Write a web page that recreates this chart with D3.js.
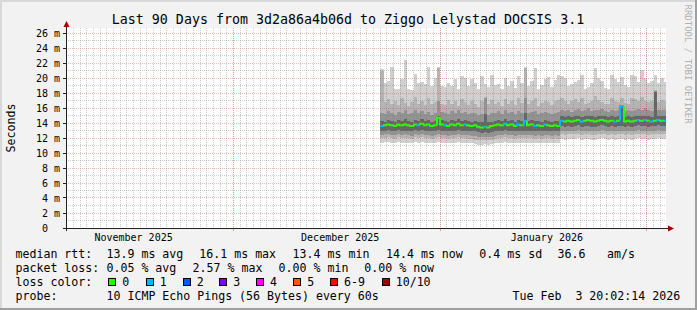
<!DOCTYPE html>
<html><head><meta charset="utf-8">
<script src="https://cdn.jsdelivr.net/npm/d3@7"></script>
<style>
body{margin:0;background:#f2f2f2}
svg{display:block}
text{font-family:"DejaVu Sans Mono",monospace;white-space:pre}
</style>
</head><body>
<svg id="c" width="697" height="310"></svg>
<script>
// ---------- data ----------
const title = "Last 90 Days from 3d2a86a4b06d to Ziggo Lelystad DOCSIS 3.1";
const yLabel = "Seconds";
const sideLabel = "RRDTOOL / TOBI OETIKER";
const rangeStart = "2025-11-05T20:02:14Z";
const rangeEnd = "2026-02-03T20:02:14Z";
const yTicks = [0, 2, 4, 6, 8, 10, 12, 14, 16, 18, 20, 22, 24, 26];
const monthStarts = ["2025-12-01T00:00:00Z", "2026-01-01T00:00:00Z", "2026-02-01T00:00:00Z"];
const monthLabels = ["November 2025", "December 2025", "January 2026"];
const monthLabelAt = ["2025-11-16T00:00:00Z", "2025-12-17T00:00:00Z", "2026-01-17T00:00:00Z"];
const firstSample = "2025-12-23T00:00:00Z";
const sampleHours = 12;

// median round trip time (ms) per sample
const median = [13.6,13.7,13.8,13.7,13.6,13.8,13.7,13.8,13.7,13.6,
13.8,13.7,13.9,13.7,13.8,13.6,13.7,14.7,13.8,13.7,
13.6,13.8,13.7,13.9,13.7,13.8,13.7,13.6,13.7,13.5,
13.4,13.5,13.4,13.6,13.7,13.8,13.7,13.9,13.7,13.8,
13.6,13.8,13.7,14.3,13.7,13.8,13.6,13.7,13.6,13.8,
13.7,13.6,13.7,13.6,14.3,14.2,14.3,14.2,14.3,14.4,
14.2,14.3,14.4,14.3,14.2,14.3,14.4,14.3,14.2,14.3,
14.2,14.3,16.2,14.2,14.3,14.2,14.3,14.4,14.3,14.4,
14.3,14.2,14.3,14.4,14.3,14.3];
// lost pings out of 10 per sample
const loss = [1,0,0,0,0,0,0,0,0,0,
0,1,0,0,0,0,0,0,0,1,
0,0,0,0,0,1,0,0,0,0,
0,1,0,0,0,0,0,1,0,0,
0,1,0,1,0,0,1,0,0,1,
0,0,0,0,1,0,0,0,0,0,
1,0,0,0,0,0,0,0,0,0,
1,0,1,0,0,0,0,1,0,1,
0,1,0,1,0,1];
// smoke: ping spread levels (ms), from highest down to lowest
const pingMax = [21.2,19.4,19.6,21.5,18.6,18.5,19.9,22.4,18.5,18.4,
20.5,19.3,19.5,19.2,21.5,18.9,20.0,21.5,18.9,18.8,
19.4,18.9,19.9,18.5,20.3,20.0,18.9,19.8,19.4,18.6,
20.3,19.2,18.8,20.4,19.1,19.2,18.6,20.0,19.0,19.6,
18.7,20.3,19.3,21.5,19.0,19.6,21.3,18.6,19.1,19.9,
20.1,18.8,19.7,20.4,20.3,20.0,18.9,19.2,19.5,19.7,
20.4,18.6,18.8,19.4,21.3,20.0,19.6,18.7,18.6,20.4,
19.8,19.5,20.2,19.1,18.8,20.4,20.3,19.5,21.1,20.0,
19.4,19.6,20.4,19.4,20.0,19.5];
const pingHigh2 = [21.0,16.8,17.2,16.5,16.9,16.4,17.4,16.7,16.3,16.8,
17.5,16.6,16.9,16.4,17.3,16.5,16.8,21.3,16.6,16.4,
17.1,16.5,16.9,16.3,17.2,16.8,16.4,17.0,16.6,16.2,
16.9,17.5,16.5,17.1,16.6,16.8,16.3,17.2,16.5,16.9,
16.4,17.3,16.7,21.3,16.6,16.9,17.4,16.3,16.7,17.0,
16.8,16.4,16.9,17.1,17.3,17.0,16.6,16.9,17.2,16.8,
17.4,16.5,16.7,17.0,17.6,17.1,16.8,16.5,16.6,17.3,
17.0,16.8,17.4,16.7,16.5,17.3,17.2,16.9,17.5,17.0,
16.8,16.9,18.4,16.8,17.1,16.9];
const pingHigh3 = [15.4,15.2,15.6,15.3,15.1,15.5,15.3,15.8,15.2,15.4,
15.7,15.3,15.6,15.2,15.5,15.1,15.4,17.0,15.5,15.3,
15.2,15.6,15.3,15.7,15.4,15.5,15.2,15.3,15.4,15.1,
15.2,17.3,15.1,15.3,15.4,15.6,15.2,15.7,15.3,15.5,
15.2,15.6,15.4,17.3,15.3,15.5,15.6,15.2,15.4,15.5,
15.3,15.2,15.4,15.5,15.8,15.6,15.7,15.5,15.8,15.9,
15.6,15.7,16.0,15.6,15.8,15.7,15.9,15.6,15.5,15.8,
15.6,15.7,16.4,15.6,15.7,15.6,15.8,15.9,15.7,16.0,
15.7,15.6,18.3,15.8,15.7,15.8];
const pingHigh4 = [14.3,14.2,14.4,14.3,14.2,14.4,14.3,14.5,14.3,14.2,
14.4,14.3,14.5,14.3,14.4,14.2,14.3,15.0,14.4,14.3,
14.2,14.4,14.3,14.5,14.3,14.4,14.3,14.2,14.3,14.1,
14.1,15.2,14.1,14.2,14.3,14.4,14.3,14.5,14.3,14.4,
14.2,14.4,14.3,15.4,14.3,14.4,14.3,14.3,14.2,14.4,
14.3,14.2,14.3,14.3,14.9,14.8,14.9,14.8,14.9,15.0,
14.8,14.9,15.0,14.9,14.8,14.9,15.0,14.9,14.8,14.9,
14.8,14.9,16.3,14.8,14.9,14.8,14.9,15.0,14.9,15.0,
14.9,14.8,18.2,15.0,14.9,14.9];
const pingLow4 = [13.0,13.0,13.1,13.0,12.9,13.1,13.0,13.0,13.0,12.9,
13.1,13.0,13.1,13.0,13.0,12.9,13.0,13.1,13.0,13.0,
12.9,13.0,13.0,13.1,13.0,13.0,13.0,12.9,12.9,12.8,
12.7,12.8,12.7,12.8,12.9,13.0,13.0,13.1,13.0,13.0,
12.9,13.0,13.0,13.0,13.0,13.0,12.9,13.0,12.9,13.0,
13.0,12.9,13.0,12.9,13.6,13.5,13.6,13.5,13.6,13.7,
13.5,13.6,13.6,13.5,13.5,13.6,13.7,13.6,13.5,13.6,
13.5,13.6,13.6,13.5,13.6,13.5,13.6,13.7,13.6,13.6,
13.5,13.6,13.6,13.7,13.6,13.6];
const pingLow3 = [12.4,12.5,12.5,12.4,12.4,12.5,12.4,12.5,12.4,12.3,
12.5,12.4,12.5,12.4,12.4,12.3,12.4,12.5,12.4,12.4,
12.3,12.4,12.4,12.5,12.4,12.4,12.4,12.3,12.3,12.2,
12.1,12.2,12.1,12.2,12.3,12.4,12.4,12.5,12.4,12.4,
12.3,12.4,12.4,12.4,12.4,12.4,12.3,12.4,12.3,12.4,
12.4,12.3,12.4,12.3,13.0,12.9,13.0,12.9,13.0,13.1,
12.9,13.0,13.0,12.9,12.9,13.0,13.1,13.0,12.9,13.0,
12.9,13.0,13.0,12.9,13.0,12.9,13.0,13.1,13.0,13.0,
12.9,13.0,13.0,13.1,13.0,13.0];
const pingLow2 = [12.0,12.0,12.1,12.0,11.9,12.1,12.0,12.0,12.0,11.9,
12.1,12.0,12.1,12.0,12.0,11.9,12.0,12.1,12.0,12.0,
11.9,12.0,12.0,12.1,12.0,12.0,11.9,11.9,11.8,11.7,
11.7,11.8,11.7,11.8,11.9,12.0,12.0,12.1,12.0,12.0,
11.9,12.0,12.0,12.0,12.0,12.0,11.9,12.0,11.9,12.0,
12.0,11.9,12.0,11.9,12.5,12.4,12.5,12.5,12.5,12.6,
12.4,12.5,12.5,12.4,12.4,12.5,12.6,12.5,12.4,12.5,
12.4,12.5,12.5,12.4,12.5,12.4,12.5,12.6,12.5,12.5,
12.4,12.5,12.5,12.6,12.5,12.5];
const pingMin = [11.4,11.5,11.5,11.4,11.3,11.5,11.4,11.4,11.4,11.3,
11.5,11.4,11.5,11.3,11.4,11.3,11.4,11.5,11.4,11.4,
11.3,11.4,11.4,11.5,11.4,11.4,11.3,11.3,11.2,11.1,
11.1,11.2,11.1,11.2,11.3,11.4,11.4,11.5,11.4,11.4,
11.3,11.4,11.4,11.4,11.4,11.4,11.3,11.4,11.3,11.4,
11.4,11.3,11.4,11.3,11.9,11.8,11.9,11.9,11.9,12.0,
11.8,11.9,11.9,11.8,11.8,11.9,12.0,11.9,11.8,11.9,
11.8,11.9,11.9,11.8,11.9,11.8,11.9,12.0,11.9,11.9,
11.8,11.9,11.9,12.0,11.9,11.9];

// legend
const lossKeys = ["0", "1", "2", "3", "4", "5", "6-9", "10/10"];
const rttStats = ["13.9 ms avg", "16.1 ms max", "13.4 ms min", "14.4 ms now", "0.4 ms sd", "36.6", "am/s"];
const lossStats = ["0.05 % avg", "2.57 % max", "0.00 % min", "0.00 % now"];
const probeText = "10 ICMP Echo Pings (56 Bytes) every 60s";
const stampText = "Tue Feb  3 20:02:14 2026";

// ---------- styling / layout ----------
const lossColors = ["#26ff00", "#00b8ff", "#0059ff", "#7e00ff", "#ff00ff", "#ff5500", "#ff0000", "#a10000"];
const smokeColors = ["#d0d0d0", "#b4b4b4", "#939393", "#666666"];

const svg = d3.select("#c");
const W = 697, H = 310;
const PL = 65.8, PR = 665.8, PT = 28, PB = 228;

svg.append("rect").attr("width", W).attr("height", H).attr("fill", "#f2f2f2");
svg.append("rect").attr("x", 0).attr("y", 0).attr("width", W).attr("height", 2).attr("fill", "#d8d8d8");
svg.append("rect").attr("x", 0).attr("y", 0).attr("width", 2).attr("height", H).attr("fill", "#d8d8d8");
svg.append("rect").attr("x", 0).attr("y", H - 2).attr("width", W).attr("height", 2).attr("fill", "#a0a0a0");
svg.append("rect").attr("x", W - 2).attr("y", 0).attr("width", 2).attr("height", H).attr("fill", "#a0a0a0");

const x = d3.scaleUtc().domain([new Date(rangeStart), new Date(rangeEnd)]).range([PL, PR]);
const y = d3.scaleLinear().domain([0, 200 / 7.5]).range([PB, PT]);

svg.append("rect").attr("x", 66).attr("y", PT).attr("width", 600).attr("height", PB - PT).attr("fill", "#ffffff");
svg.append("defs").append("clipPath").attr("id", "plot")
  .append("rect").attr("x", 66).attr("y", PT).attr("width", 600).attr("height", PB - PT);

const t0 = new Date(firstSample).getTime();
const samples = median.map((m, i) => ({
  t: new Date(t0 + i * sampleHours * 3600e3),
  t1: new Date(t0 + (i + 1) * sampleHours * 3600e3),
  med: m, loss: loss[i],
  levels: [pingMin[i], pingLow2[i], pingLow3[i], pingLow4[i], pingHigh4[i], pingHigh3[i], pingHigh2[i], pingMax[i]]
}));

const gData = svg.append("g").attr("clip-path", "url(#plot)");
const bands = [[0, 1, 0], [1, 2, 1], [2, 3, 2], [3, 4, 3], [4, 5, 2], [5, 6, 1], [6, 7, 0]];
samples.forEach(s => {
  const xa = Math.round(x(s.t)), xb = Math.round(x(s.t1));
  bands.forEach(([lo, hi, c]) => {
    const ya = Math.round(y(s.levels[hi])), yb = Math.round(y(s.levels[lo]));
    if (yb - ya <= 0) return;
    gData.append("rect").attr("x", xa).attr("y", ya).attr("width", xb - xa).attr("height", yb - ya)
      .attr("fill", smokeColors[c]).attr("shape-rendering", "crispEdges");
  });
});

// grid
const minorCol = "rgba(120,120,120,0.38)", majorCol = "rgba(235,60,60,0.38)";
const gGrid = svg.append("g").attr("clip-path", "url(#plot)").attr("shape-rendering", "crispEdges");
d3.utcDay.range(new Date(rangeStart), new Date(rangeEnd)).forEach(d => {
  const xv = Math.floor(x(d)) + 0.5;
  gGrid.append("line").attr("x1", xv).attr("x2", xv).attr("y1", PT).attr("y2", PB)
    .attr("stroke", minorCol).attr("stroke-dasharray", "1,1");
});
d3.range(1, 27).filter(v => v % 2).forEach(v => {
  const yv = Math.floor(y(v)) + 0.5;
  gGrid.append("line").attr("x1", 66).attr("x2", 666).attr("y1", yv).attr("y2", yv)
    .attr("stroke", minorCol).attr("stroke-dasharray", "1,1");
});
yTicks.filter(v => v > 0).forEach(v => {
  const yv = Math.floor(y(v)) + 0.5;
  gGrid.append("line").attr("x1", 66).attr("x2", 666).attr("y1", yv).attr("y2", yv)
    .attr("stroke", majorCol).attr("stroke-dasharray", "1,1");
});
monthStarts.forEach(d => {
  const xv = Math.floor(x(new Date(d))) + 0.5;
  gGrid.append("line").attr("x1", xv).attr("x2", xv).attr("y1", PT).attr("y2", PB)
    .attr("stroke", majorCol).attr("stroke-dasharray", "1,1");
  svg.append("line").attr("x1", xv).attr("x2", xv).attr("y1", PB).attr("y2", PB + 3)
    .attr("stroke", "rgba(230,60,60,0.5)").attr("shape-rendering", "crispEdges");
});

// median line coloured by loss
const gMed = svg.append("g").attr("clip-path", "url(#plot)");
samples.forEach((s, i) => {
  const xa = Math.round(x(s.t)), xb = Math.round(x(s.t1));
  const yPrev = i > 0 ? y(samples[i - 1].med) : y(s.med);
  const yc = y(s.med);
  gMed.append("path").attr("d", `M${xa},${yPrev}V${yc}H${xb}`)
    .attr("fill", "none").attr("stroke", lossColors[Math.min(s.loss, 7)]).attr("stroke-width", 2);
});

// axes
const axisCol = "#222";
svg.append("line").attr("x1", 66.5).attr("x2", 66.5).attr("y1", PB + 3).attr("y2", 24)
  .attr("stroke", axisCol).attr("shape-rendering", "crispEdges");
svg.append("line").attr("x1", 63).attr("x2", 670).attr("y1", PB + 0.5).attr("y2", PB + 0.5)
  .attr("stroke", axisCol).attr("shape-rendering", "crispEdges");
svg.append("path").attr("d", "M63.5,27L69.5,27L66.5,21Z").attr("fill", "#a00000");
svg.append("path").attr("d", "M668,225.5L668,231.5L674,228.5Z").attr("fill", "#a00000");

yTicks.forEach(v => {
  const yv = Math.floor(y(v)) + 0.5;
  svg.append("line").attr("x1", 63).attr("x2", 66).attr("y1", yv).attr("y2", yv)
    .attr("stroke", axisCol).attr("shape-rendering", "crispEdges");
  svg.append("text").attr("x", 60).attr("y", y(v) + 3.6).attr("text-anchor", "end")
    .attr("font-size", "10px").attr("fill", "#000")
    .text(v === 0 ? "0\u00a0\u00a0" : v + " m");
});

monthLabels.forEach((lab, i) => {
  svg.append("text").attr("x", x(new Date(monthLabelAt[i]))).attr("y", 240.5)
    .attr("text-anchor", "middle").attr("font-size", "10px").attr("fill", "#000").text(lab);
});

svg.append("text").attr("x", 348).attr("y", 24).attr("text-anchor", "middle")
  .attr("font-size", "13.3px").attr("fill", "#000").text(title);
svg.append("text").attr("transform", "translate(15,128) rotate(-90)").attr("text-anchor", "middle")
  .attr("font-size", "11.6px").attr("fill", "#000").text(yLabel);
svg.append("text").attr("transform", "translate(685,4.5) rotate(90)").attr("text-anchor", "start")
  .attr("font-size", "9px").attr("fill", "#b0b0b0").text(sideLabel);

// legend
const FS = "11.6px";
function lt(str, xx, yy) {
  svg.append("text").attr("x", xx).attr("y", yy).attr("font-size", FS).attr("fill", "#000").text(str);
}
const L1 = 258, L2 = 271.7, L3 = 285.5, L4 = 299.5;
lt("median rtt:", 15.5, L1);
[106.5, 199.3, 292.6, 386, 479.3, 557.6, 607].forEach((xx, i) => lt(rttStats[i], xx, L1));
lt("packet loss:", 15.5, L2);
[106.5, 192.6, 278.6, 364.3].forEach((xx, i) => lt(lossStats[i], xx, L2));
lt("loss color:", 15.5, L3);
const swX = [108.3, 145.7, 182.7, 219.3, 256, 293.3, 330, 381.7];
lossKeys.forEach((k, i) => {
  svg.append("rect").attr("x", Math.round(swX[i]) + 0.5).attr("y", 278.5).attr("width", 7).attr("height", 7)
    .attr("fill", lossColors[i]).attr("stroke", "#000").attr("stroke-width", 1).attr("shape-rendering", "crispEdges");
  lt(k, swX[i] + 14, L3);
});
lt("probe:", 15.5, L4);
lt(probeText, 106.5, L4);
lt(stampText, 512.6, L4);
</script>
</body></html>
